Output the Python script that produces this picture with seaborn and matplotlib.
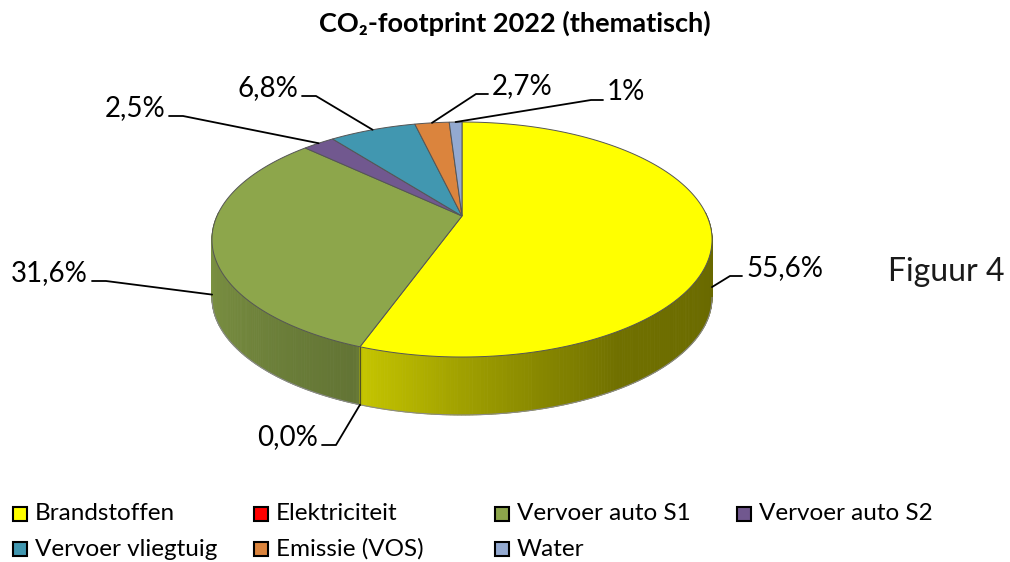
import numpy as np
import matplotlib
matplotlib.use('Agg')
import matplotlib.pyplot as plt
import seaborn as sns
from matplotlib.patches import Polygon, Rectangle

# Data
categories = ["Brandstoffen", "Elektriciteit", "Vervoer auto S1", "Vervoer auto S2",
              "Vervoer vliegtuig", "Emissie (VOS)", "Water"]
values = [55.6, 0.0, 31.6, 2.5, 6.8, 2.7, 1.0]
label_texts = ["55,6%", "0,0%", "31,6%", "2,5%", "6,8%", "2,7%", "1%"]
hex_colors = ["#FFFF00", "#FF0000", "#8DA64B", "#71588F", "#4197B0", "#DB843D", "#93A9D0"]

sns.set_theme(style="white")
plt.rcParams['font.family'] = ['Lato', 'DejaVu Sans']
palette = sns.color_palette(hex_colors)

# pie geometry (pixel space)
X0, Y0 = 462, 216      # apex of the top face
A, B = 245, 112.8      # horizontal / vertical radii
K = 0.2                # perspective factor
H = 58                 # side height


def proj(theta, z=0.0):
    t = np.radians(theta)
    x, y = np.sin(t), -np.cos(t)
    w = 1 - K * y
    return X0 + A * x / w, Y0 + B * y / w + z


# brightness of the side wall, by angle (clockwise from 12 o'clock)
SHADE_AT = [90, 148, 165, 176, 199, 201, 230, 272]
SHADE_VAL = [0.40, 0.44, 0.53, 0.60, 0.77, 0.70, 0.80, 0.92]


def shade(theta):
    return np.interp(theta, SHADE_AT, SHADE_VAL)


fig = plt.figure(figsize=(10.1, 5.62), dpi=100)
ax = fig.add_axes([0, 0, 1, 1])
ax.set_xlim(0, 1010)
ax.set_ylim(562, 0)
ax.axis('off')

vals = np.array(values)
ends = np.cumsum(vals) / vals.sum() * 360
starts = ends - vals / vals.sum() * 360
mids = (starts + ends) / 2

# side strips, back to front
strips = []
for i, (s, e) in enumerate(zip(starts, ends)):
    if e - s <= 0:
        continue
    lo, hi = max(s, 88), min(e, 272)
    if hi <= lo:
        continue
    n = max(int((hi - lo) / 0.7), 1)
    th = np.linspace(lo, hi, n + 1)
    for a, b in zip(th[:-1], th[1:]):
        m = (a + b) / 2
        strips.append((np.cos(np.radians(m)), i, a, b, m))
strips.sort(key=lambda r: -r[0])
for _, i, a, b, m in strips:
    c = np.array(palette[i]) * shade(m)
    pts = [proj(a), proj(b), proj(b, H), proj(a, H)]
    ax.add_patch(Polygon(pts, closed=True, facecolor=c, edgecolor=c, lw=0.6, zorder=2))

# side outline
th = np.linspace(101.5, 258.5, 200)
bx, by = proj(th, H)
ax.plot(bx, by, color='#8a8a8a', lw=0.8, zorder=3)
for t in starts:
    if 101.5 < t < 258.5:
        x1, y1 = proj(t)
        x2, y2 = proj(t, H)
        ax.plot([x1, x2], [y1, y2], color='#505020', lw=0.8, zorder=3)

# top face
for i, (s, e) in enumerate(zip(starts, ends)):
    if e - s <= 0:
        continue
    th = np.linspace(s, e, max(int(e - s) * 2, 4))
    px, py = proj(th)
    pts = [(X0, Y0)] + list(zip(px, py))
    ax.add_patch(Polygon(pts, closed=True, facecolor=palette[i], edgecolor='#555555',
                         lw=0.7, zorder=4))

# data labels with leader lines
label_pos = [(746, 268, 'left'), (318, 437, 'right'), (88, 273, 'right'), (165, 108, 'right'),
             (298, 88, 'right'), (492, 86, 'left'), (607, 92, 'left')]
for i, (tx, ty, side) in enumerate(label_pos):
    m = mids[i]
    front = 95 < m < 265
    ax_, ay_ = proj(m, H * 0.88 if front else 0)
    if i == 1:
        ax_, ay_ = proj(m, H)
    ly = ty + 8
    ex = tx - 4 if side == 'left' else tx + 4
    kx = ex - 12 if side == 'left' else ex + 14
    ax.plot([ax_, kx, ex], [ay_, ly, ly], color='black', lw=1.3, zorder=5)
    ax.text(tx, ty, label_texts[i], ha=side, va='center', fontsize=20, color='black', zorder=6)

# title
ax.text(515, 23, "CO\u2082-footprint 2022 (thematisch)", ha='center', va='center',
        fontsize=19.5, fontweight='bold', color='black')

# side note
ax.text(888, 272, "Figuur 4", ha='left', va='center', fontsize=23, fontweight='normal',
        color='#1a1a1a')

# legend
col_x = [13, 254, 495, 737]
row_y = [514, 549]
for i, name in enumerate(categories):
    r, c = divmod(i, 4)
    x, y = col_x[c], row_y[r]
    ax.add_patch(Rectangle((x, y - 7), 14, 14, facecolor=palette[i], edgecolor='black',
                           lw=1.5, zorder=5))
    ax.text(x + 22, y, name, ha='left', va='center', fontsize=17.5, color='black')

fig.savefig("out.png", dpi=100, facecolor='white')
